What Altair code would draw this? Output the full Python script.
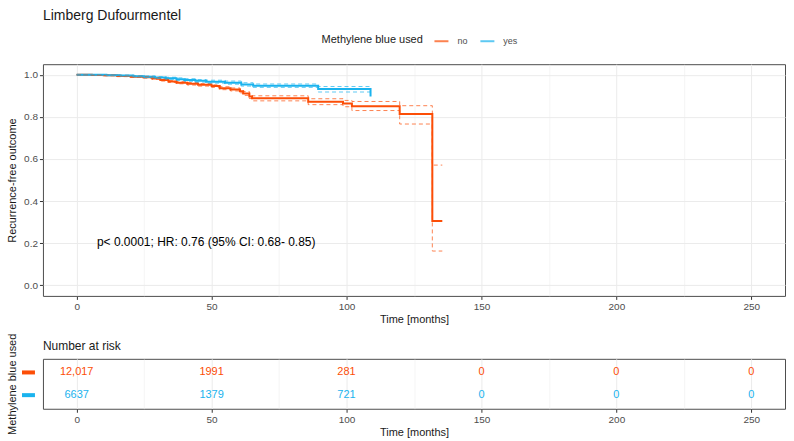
import altair as alt
import pandas as pd

# ---------------- data ----------------
groups = ["no", "yes"]
colors = ["#FC4E07", "#1AB3EE"]

no_time  = [0, 5.6, 10, 15, 20, 24.7, 28, 31, 34, 37, 41, 45, 50, 53, 57, 60.5, 61.7, 64, 65, 85.8, 98.7, 102, 119.7, 131.8, 135.5]
no_surv  = [1.0, 0.999, 0.997, 0.994, 0.991, 0.988, 0.982, 0.975, 0.968, 0.962, 0.957, 0.952, 0.946, 0.936, 0.930, 0.922, 0.911, 0.897, 0.888, 0.872, 0.863, 0.850, 0.813, 0.306, 0.306]
no_upper = [1.0, 1.0, 0.999, 0.997, 0.994, 0.992, 0.986, 0.98, 0.973, 0.967, 0.963, 0.958, 0.952, 0.943, 0.937, 0.93, 0.92, 0.907, 0.9, 0.886, 0.878, 0.873, 0.853, 0.571, 0.571]
no_lower = [1.0, 0.998, 0.995, 0.991, 0.988, 0.984, 0.978, 0.97, 0.963, 0.957, 0.951, 0.946, 0.94, 0.929, 0.923, 0.914, 0.902, 0.887, 0.876, 0.858, 0.848, 0.83, 0.766, 0.163, 0.163]

yes_time  = [0, 11, 16, 21, 25, 29, 33, 37, 40, 44, 48, 55, 61, 65.4, 89.5, 108.9]
yes_surv  = [1.0, 0.998, 0.996, 0.993, 0.990, 0.987, 0.983, 0.979, 0.975, 0.971, 0.967, 0.962, 0.954, 0.948, 0.932, 0.897]
yes_upper = [1.0, 0.999, 0.998, 0.996, 0.994, 0.991, 0.988, 0.985, 0.981, 0.977, 0.974, 0.970, 0.962, 0.956, 0.944, 0.944]
yes_lower = [1.0, 0.997, 0.994, 0.990, 0.986, 0.983, 0.978, 0.973, 0.969, 0.965, 0.960, 0.955, 0.946, 0.940, 0.918, 0.918]

risk_times = [0, 50, 100, 150, 200, 250]
risk_no  = ["12,017", "1991", "281", "0", "0", "0"]
risk_yes = ["6637", "1379", "721", "0", "0", "0"]

annot_text = "p< 0.0001; HR: 0.76 (95% CI: 0.68- 0.85)"
annot_x = 7.5
annot_y = 0.204

risk_title = "Number at risk"

x_ticks = [0, 25, 50, 75, 100, 125, 150, 175, 200, 225, 250]
y_ticks = [0.0, 0.1, 0.2, 0.3, 0.4, 0.5, 0.6, 0.7, 0.8, 0.9, 1.0]

# ---------------- tables ----------------
rows = []
for g, t, s, u, l in [("no", no_time, no_surv, no_upper, no_lower),
                      ("yes", yes_time, yes_surv, yes_upper, yes_lower)]:
    for i in range(len(t)):
        rows.append({"time": t[i], "surv": s[i], "upper": u[i], "lower": l[i], "group": g})
km = pd.DataFrame(rows)

risk_rows = []
for g, vals in [("no", risk_no), ("yes", risk_yes)]:
    for t, v in zip(risk_times, vals):
        risk_rows.append({"time": t, "n": v, "group": g})
risk = pd.DataFrame(risk_rows)
keys = pd.DataFrame({"group": groups})
annot = pd.DataFrame({"x": [annot_x], "y": [annot_y], "label": [annot_text]})
rtitle = pd.DataFrame({"label": [risk_title]})

# ---------------- scales / axes ----------------
xscale = alt.Scale(domain=[-12.5, 262.5], nice=False, zero=False)
yscale = alt.Scale(domain=[-0.05, 1.05], nice=False, zero=False)
cscale = alt.Scale(domain=groups, range=colors)

minor_x = "datum.value % 50 !== 0"
minor_y = "round(datum.value * 10) % 2 !== 0"

def x_axis():
    return alt.Axis(
        values=x_ticks, title="Time [months]",
        labelExpr="datum.value % 50 === 0 ? datum.label : ''",
        labelOverlap=False,
        gridWidth={"condition": {"test": minor_x, "value": 0.5}, "value": 1},
        tickOpacity={"condition": {"test": minor_x, "value": 0}, "value": 1},
        tickSize=3.5, labelPadding=2, titlePadding=2,
    )

y_axis_main = alt.Axis(
    values=y_ticks, title="Recurrence-free outcome",
    labelExpr="round(datum.value * 10) % 2 === 0 ? format(datum.value, '.1f') : ''",
    labelOverlap=False,
    gridWidth={"condition": {"test": minor_y, "value": 0.5}, "value": 1},
    tickOpacity={"condition": {"test": minor_y, "value": 0}, "value": 1},
    tickSize=3.5, labelPadding=2, titlePadding=6,
)

legend = alt.Legend(
    orient="none", legendX=279, legendY=-31, direction="horizontal",
    titleOrient="left", title="Methylene blue used", titleFontSize=11,
    titleFontWeight="normal", titleColor="#1a1a1a", titlePadding=10,
    labelFontSize=9, labelColor="#4D4D4D", labelOffset=8, columnPadding=8,
    symbolType="stroke", symbolStrokeWidth=2, symbolSize=196,
)

base = alt.Chart(km)

surv_line = base.mark_line(interpolate="step-after", strokeWidth=2).encode(
    x=alt.X("time:Q", scale=xscale, axis=x_axis()),
    y=alt.Y("surv:Q", scale=yscale, axis=y_axis_main),
    color=alt.Color("group:N", scale=cscale, legend=legend),
)
upper_line = base.mark_line(interpolate="step-after", strokeWidth=1, strokeDash=[4, 3], opacity=0.7).encode(
    x="time:Q", y="upper:Q", color=alt.Color("group:N", scale=cscale),
)
lower_line = base.mark_line(interpolate="step-after", strokeWidth=1, strokeDash=[4, 3], opacity=0.7).encode(
    x="time:Q", y="lower:Q", color=alt.Color("group:N", scale=cscale),
)
annot_mark = alt.Chart(annot).mark_text(align="left", baseline="middle", fontSize=12, color="black").encode(
    x="x:Q", y="y:Q", text="label:N",
)

main = alt.layer(surv_line, upper_line, lower_line, annot_mark).properties(
    width=743, height=232,
    title=alt.TitleParams("Limberg Dufourmentel", anchor="start", frame="group",
                          fontSize=14, fontWeight="normal", color="#1a1a1a", offset=10),
)

risk_text = alt.Chart(risk).mark_text(fontSize=11, baseline="middle").encode(
    x=alt.X("time:Q", scale=xscale, axis=x_axis()),
    y=alt.Y("group:N", sort=groups, scale=alt.Scale(type="point", padding=0.6),
            axis=alt.Axis(title="Methylene blue used", labels=False, ticks=False,
                          domain=False, titlePadding=25)),
    text="n:N",
    color=alt.Color("group:N", scale=cscale, legend=None),
)
risk_keys = alt.Chart(keys).mark_rule(strokeWidth=4).encode(
    y=alt.Y("group:N", sort=groups),
    x=alt.value(-21), x2=alt.value(-8),
    color=alt.Color("group:N", scale=cscale, legend=None),
)
risk_title_mark = alt.Chart(rtitle).mark_text(
    align="left", baseline="middle", fontSize=12, color="#1a1a1a"
).encode(x=alt.value(0), y=alt.value(-12.7), text="label:N")

risk_chart = alt.layer(risk_text, risk_keys, risk_title_mark).properties(width=743, height=50)

chart = alt.vconcat(main, risk_chart, spacing=7).resolve_scale(color="independent").properties(
    padding={"left": 6, "top": 8, "right": 8, "bottom": 5},
    background="white",
).configure(font="Liberation Sans").configure_view(
    stroke="#4d4d4d", strokeWidth=1,
).configure_axis(
    labelColor="#4D4D4D", labelFontSize=10, titleFontSize=11, titleColor="#1a1a1a",
    titleFontWeight="normal", domain=False, tickColor="#333333", gridColor="#EBEBEB",
)

chart.save("out.html", embed_options={"renderer": "svg", "actions": False})
